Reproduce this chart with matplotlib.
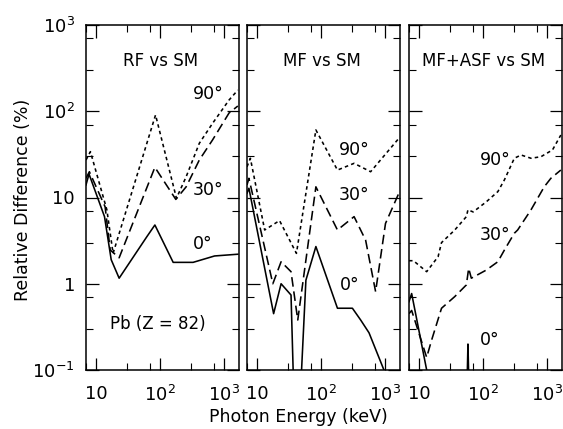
import numpy as np
import matplotlib
matplotlib.use("Agg")
import matplotlib.pyplot as plt
from matplotlib.ticker import LogLocator, FuncFormatter, NullFormatter

plt.rcParams.update({'font.family': 'DejaVu Sans', 'font.size': 12})

# RF vs SM
e_rf_0 = [7.0, 7.8, 13.6, 17.3, 23, 62, 83, 160, 327, 708, 1630]
d_rf_0 = [14, 18.7, 6.0, 1.9, 1.16, 3.5, 4.8, 1.77, 1.77, 2.1, 2.2]
e_rf_30 = [7.0, 7.9, 13.9, 16.7, 23, 83, 176, 255, 409, 658, 1190, 1630]
d_rf_30 = [16.7, 19.9, 7.8, 2.46, 2.0, 22.4, 9.5, 13.3, 27.2, 46.5, 95.5, 115]
e_rf_90 = [7.0, 8.2, 14.8, 18.5, 85, 180, 255, 409, 658, 1190, 1630]
d_rf_90 = [27.2, 34, 7.2, 2.25, 90.6, 9.8, 17.4, 42.5, 72.4, 135, 176]

# MF vs SM
e_mf_0 = [7.0, 7.5, 18.2, 23.8, 34, 38.4, 45.9, 58, 83, 180, 308, 414, 559, 955, 1050]
d_mf_0 = [11.2, 12.8, 0.45, 1.0, 0.74, 0.03, 0.03, 1.1, 2.7, 0.52, 0.52, 0.38, 0.27, 0.1, 0.08]
e_mf_30 = [7.0, 7.5, 17.7, 23.8, 34, 43.3, 58, 83, 180, 327, 495, 708, 1010, 1630]
d_mf_30 = [14, 16.7, 1.0, 1.8, 1.38, 0.38, 1.88, 13.3, 4.2, 6.0, 3.2, 0.81, 5.0, 11.2]
e_mf_90 = [7.0, 7.9, 13.2, 22.5, 41.3, 83, 180, 327, 592, 1630]
d_mf_90 = [22.7, 28.5, 4.2, 5.4, 2.25, 60.7, 20.8, 24.9, 19.9, 48.5]

# MF+ASF vs SM
e_asf_0 = [7.0, 7.7, 13.2, 20, 56.5, 58.1, 59.8, 100]
d_asf_0 = [0.62, 0.77, 0.1, 0.02, 0.08, 0.2, 0.08, 0.02]
e_asf_30 = [7.0, 7.7, 13.2, 15.7, 22.5, 36.2, 54.9, 59.6, 65.6, 112, 170, 215, 307, 346,
            559, 898, 1140, 1630]
d_asf_30 = [0.45, 0.49, 0.14, 0.22, 0.52, 0.71, 0.97, 1.51, 1.16, 1.44, 1.8, 2.46, 3.85, 4.2,
            7.2, 13.3, 16.7, 20.8]
e_asf_90 = [7.0, 8.2, 13.2, 19.9, 22.5, 36.2, 54.9, 58.1, 70, 112, 170, 215, 307, 391, 559,
            798, 1208, 1630]
d_asf_90 = [1.85, 1.85, 1.38, 2.06, 3.0, 4.2, 6.0, 7.2, 6.8, 8.9, 11.7, 16, 28.5, 31.1, 28.5,
            29.7, 35.6, 53]

titles = ["RF vs SM", "MF vs SM", "MF+ASF vs SM"]
curves = [
    [(e_rf_0, d_rf_0), (e_rf_30, d_rf_30), (e_rf_90, d_rf_90)],
    [(e_mf_0, d_mf_0), (e_mf_30, d_mf_30), (e_mf_90, d_mf_90)],
    [(e_asf_0, d_asf_0), (e_asf_30, d_asf_30), (e_asf_90, d_asf_90)],
]
dash_styles = [None, (6, 3), (2.2, 2)]
angle_labels = ["0°", "30°", "90°"]
# label positions (axes fraction) per panel: 0, 30, 90
label_pos = [
    [(0.70, 0.365), (0.70, 0.522), (0.70, 0.80)],
    [(0.61, 0.246), (0.60, 0.507), (0.60, 0.638)],
    [(0.46, 0.087), (0.46, 0.391), (0.46, 0.609)],
]


def decade_label(v, pos):
    e = int(round(np.log10(v)))
    if e == 0:
        return "1"
    if e == 1:
        return "10"
    return r"$\mathdefault{10^{%d}}$" % e


fig = plt.figure(figsize=(5.63, 4.29), dpi=100)
lefts = [86, 247, 409]
for i in range(3):
    ax = fig.add_axes([lefts[i] / 563, 59 / 429, 153 / 563, 345 / 429])
    ax.set_xscale('log')
    ax.set_yscale('log')
    ax.set_xlim(7, 1700)
    ax.set_ylim(0.1, 1000)
    for (e, d), ds in zip(curves[i], dash_styles):
        line, = ax.plot(e, d, color='black', lw=1.15)
        if ds is not None:
            line.set_dashes(ds)
    if i == 2:
        # narrow edge spike on the 0 degree curve, drawn filled
        ax.fill(e_asf_0[4:7], d_asf_0[4:7], color='black', lw=0)
    for (lx, ly), s in zip(label_pos[i], angle_labels):
        ax.text(lx, ly, s, transform=ax.transAxes, ha='left', va='center', fontsize=12.5)
    ax.text(0.49, 0.895, titles[i], transform=ax.transAxes, ha='center', va='center',
            fontsize=12)
    ax.xaxis.set_major_locator(LogLocator(base=10, numticks=10))
    ax.xaxis.set_minor_locator(LogLocator(base=10, subs=(3, 7), numticks=10))
    ax.yaxis.set_major_locator(LogLocator(base=10, numticks=10))
    ax.yaxis.set_minor_locator(LogLocator(base=10, subs=(3, 7), numticks=10))
    ax.xaxis.set_major_formatter(FuncFormatter(decade_label))
    ax.xaxis.set_minor_formatter(NullFormatter())
    ax.yaxis.set_minor_formatter(NullFormatter())
    if i == 0:
        ax.yaxis.set_major_formatter(FuncFormatter(decade_label))
    else:
        ax.yaxis.set_major_formatter(NullFormatter())
    ax.tick_params(which='both', direction='in', top=True, right=True, labelsize=13)
    ax.tick_params(which='major', length=9, width=0.9)
    ax.tick_params(which='minor', length=5, width=0.8)
    ax.tick_params(axis='x', pad=11)
    ax.tick_params(axis='y', pad=8)
    for sp in ax.spines.values():
        sp.set_linewidth(1.1)
    if i == 0:
        ax.text(0.157, 0.133, "Pb (Z = 82)", transform=ax.transAxes, ha='left',
                va='center', fontsize=12)

fig.text(23 / 563, 1 - 200 / 429, "Relative Difference (%)", rotation=90,
         ha='center', va='center', fontsize=12.5)
fig.text(298 / 563, 1 - 417 / 429, "Photon Energy (keV)", ha='center', va='center',
         fontsize=12.5)

fig.savefig("out.png", dpi=100)
